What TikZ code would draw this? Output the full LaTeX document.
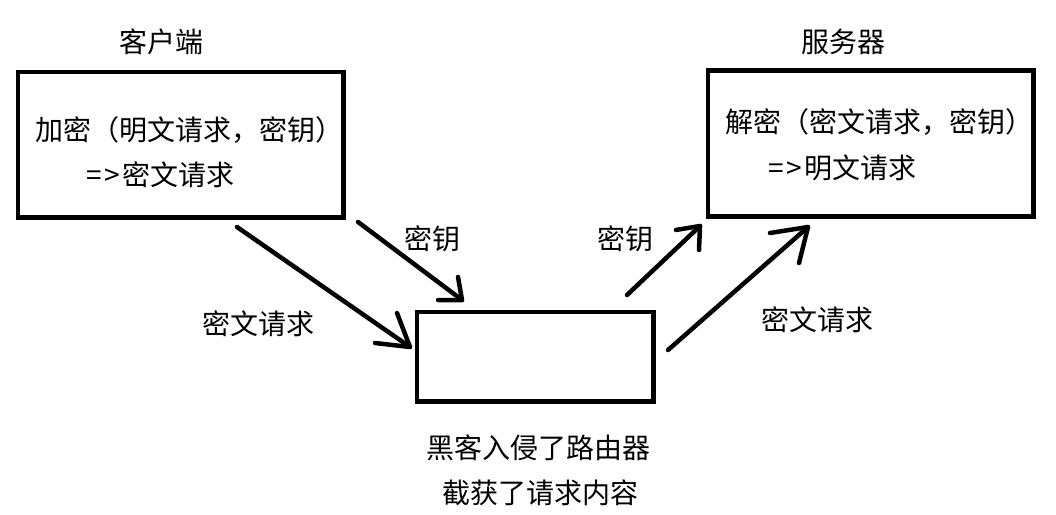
\documentclass[tikz,border=0pt]{standalone}
\usepackage{fontspec}
\setmainfont{Noto Sans CJK SC}
\begin{document}
\begin{tikzpicture}[x=1pt,y=-1pt,
  box/.style={draw=black,line width=4.5pt},
  lbl/.style={inner sep=0pt,font=\fontsize{28}{32}\selectfont},
  arr/.style={line width=4.5pt,line cap=round,line join=round}]
\useasboundingbox[fill=white] (0,0) rectangle (1056,514);
% boxes
\draw[box] (18,72) rectangle (343.5,217.5);
\draw[box] (708,70.5) rectangle (1033.5,216.5);
\draw[box] (417,312) rectangle (653.5,401.5);
% labels
\node[lbl] (tclient) at (161,42) {客户端};
\node[lbl] (tserver) at (843,42) {服务器};
\node[lbl,anchor=west] (c1) at (35,130) {加密（明文请求，密钥）};
\node[lbl,anchor=west] (c2) at (86,175) {=\hspace{3pt}>\hspace{2pt}密文请求};
\node[lbl,anchor=west] (s1) at (725,122.5) {解密（密文请求，密钥）};
\node[lbl,anchor=west] (s2) at (768,168) {=\hspace{3pt}>\hspace{2pt}明文请求};
\node[lbl] (k1) at (432,239) {密钥};
\node[lbl] (k2) at (625,239) {密钥};
\node[lbl] (m1) at (258,324) {密文请求};
\node[lbl] (m2) at (817,320) {密文请求};
\node[lbl] (h1) at (538.5,448) {黑客入侵了路由器};
\node[lbl] (h2) at (540.5,493) {截获了请求内容};
% arrows
\coordinate (a1s) at (237,227); \coordinate (a1t) at (410,347);
\coordinate (a1b) at (397,313); \coordinate (a1c) at (375,343);
\coordinate (a2s) at (358,222); \coordinate (a2t) at (462,300);
\coordinate (a2b) at (458,277); \coordinate (a2c) at (438,300);
\coordinate (a3s) at (627,295); \coordinate (a3t) at (700,226);
\coordinate (a3b) at (676,230); \coordinate (a3c) at (699,250);
\coordinate (a4s) at (668,350); \coordinate (a4t) at (808,227);
\coordinate (a4b) at (770,233); \coordinate (a4c) at (799,263);
\draw[arr] (a1s) -- (a1t); \draw[arr] (a1b) -- (a1t) -- (a1c);
\draw[arr] (a2s) -- (a2t); \draw[arr] (a2b) -- (a2t) -- (a2c);
\draw[arr] (a3s) -- (a3t); \draw[arr] (a3b) -- (a3t) -- (a3c);
\draw[arr] (a4s) -- (a4t); \draw[arr] (a4b) -- (a4t) -- (a4c);
\end{tikzpicture}
\end{document}
